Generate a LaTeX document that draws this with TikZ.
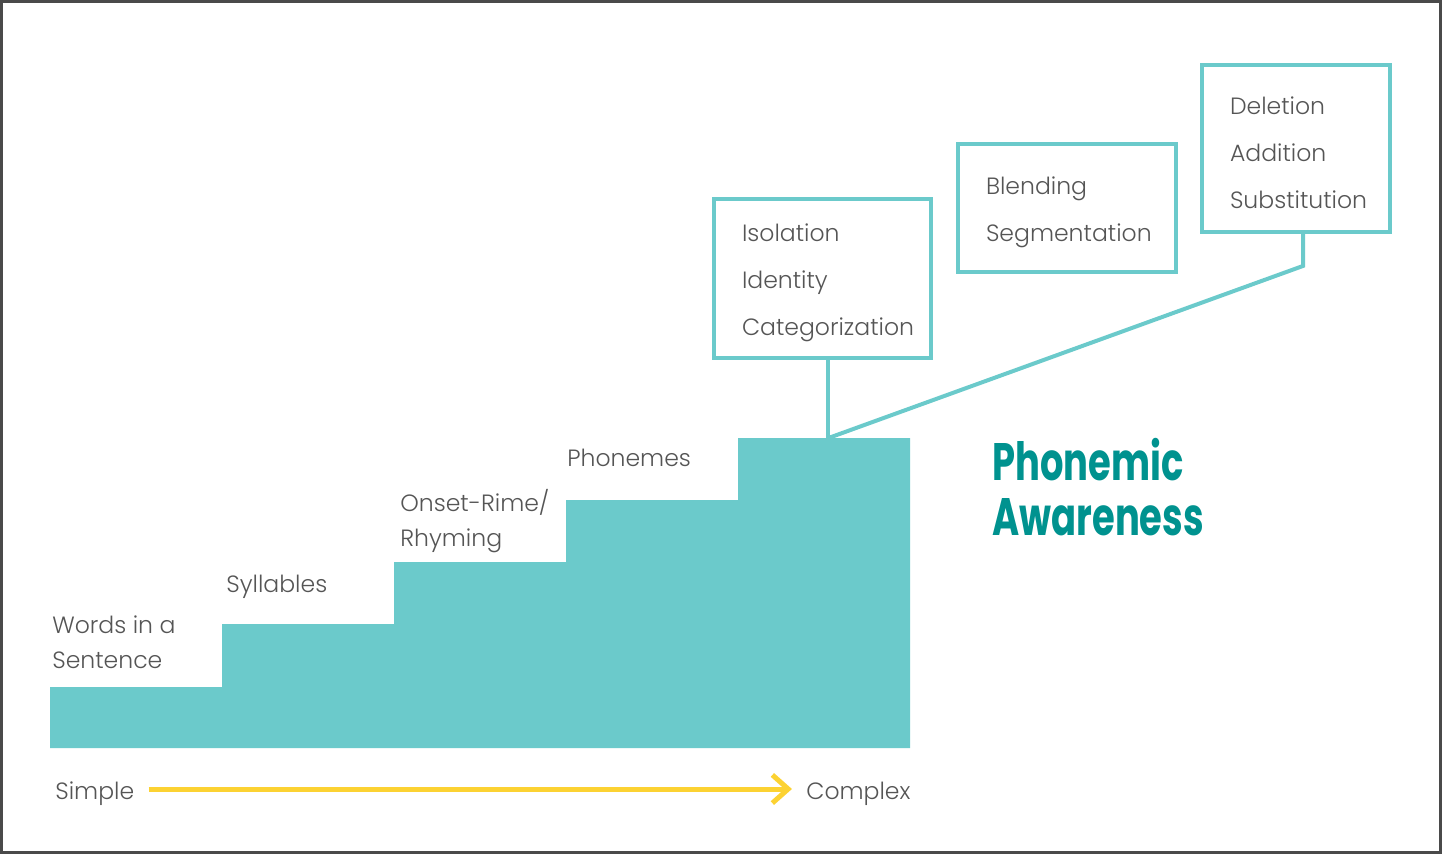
\documentclass[tikz,border=0pt]{standalone}
\usepackage{fontspec}
\setmainfont{Poppins}[UprightFont=* Light, BoldFont=* Bold]
\newfontfamily\titlefont{Poppins}[UprightFont=* Bold, FakeStretch=0.7]
\usetikzlibrary{arrows.meta, positioning}
\definecolor{StepTeal}{HTML}{6BCACB}
\definecolor{TitleTeal}{HTML}{00928F}
\definecolor{ArrowYellow}{HTML}{FCD232}
\definecolor{TextGray}{HTML}{555555}
\definecolor{FrameGray}{HTML}{4A4A4A}

\begin{document}
\begin{tikzpicture}[
  x=0.02cm, y=-0.02cm,
  itembox/.style={draw=StepTeal, line width=0.08cm, anchor=north west, inner xsep=0.56cm,
                  inner ysep=0pt, align=left, text=TextGray,
                  font=\fontsize{13.4}{26.6}\selectfont,
                  execute at begin node=\rule{0pt}{15pt}},
  lbl/.style={anchor=west, inner sep=0pt, align=left, text=TextGray,
              font=\fontsize{13.4}{19.8}\selectfont},
  link/.style={draw=StepTeal, line width=0.08cm},
  yarrow/.style={draw=ArrowYellow, line width=0.1cm,
                 -{Straight Barb[length=9pt, width=16pt]}}
]
\useasboundingbox (0,0) rectangle (1442,854);
\draw[FrameGray, line width=0.06cm] (1.5,1.5) rectangle (1440.5,852.5);

% staircase
\fill[StepTeal] (50,748) |- (222,687) |- (394,624) |- (566,562) |- (738,500)
  |- (910,438) -- (910,748) -- cycle;

% step labels
\node[lbl] (words)    at (52,642)  {Words in a\\Sentence};
\node[lbl] (syll)     at (226,587) {Syllables};
\node[lbl] (onset)    at (400,521) {Onset-Rime/\\Rhyming};
\node[lbl] (phonemes) at (567,458) {Phonemes};

% skill boxes
\node[itembox, text width=3.22cm, minimum height=3.18cm] (isoBox) at (712,197)
  {Isolation\\Identity\\Categorization};
\node[itembox, text width=3.24cm, minimum height=2.56cm] (blendBox) at (956,142)
  {Blending\\Segmentation};
\node[itembox, text width=2.64cm, minimum height=3.34cm] (delBox) at (1200,63)
  {Deletion\\Addition\\Substitution};

\coordinate (isoFoot) at ([xshift=0.12cm]isoBox.south);
\coordinate (delFoot) at ([xshift=0.14cm]delBox.south);
\coordinate (peak) at (isoFoot |- 0,438);
\draw[link] (isoFoot) -- (peak);
\draw[link] (delFoot) -- ++(0,32) -- (peak);

\node[anchor=north west, inner sep=0pt, align=left, text=TitleTeal,
      font=\titlefont\fontsize{30}{31}\selectfont] (title) at (992,438)
  {Phonemic\\Awareness};

% simple -> complex
\node[lbl] (simple)  at (55,794)  {Simple};
\node[lbl] (complex) at (806,794) {Complex};
\draw[yarrow, shorten <=8pt, shorten >=8pt]
  ([yshift=0.1cm]simple.east) -- ([yshift=0.1cm]complex.west);
\end{tikzpicture}
\end{document}
